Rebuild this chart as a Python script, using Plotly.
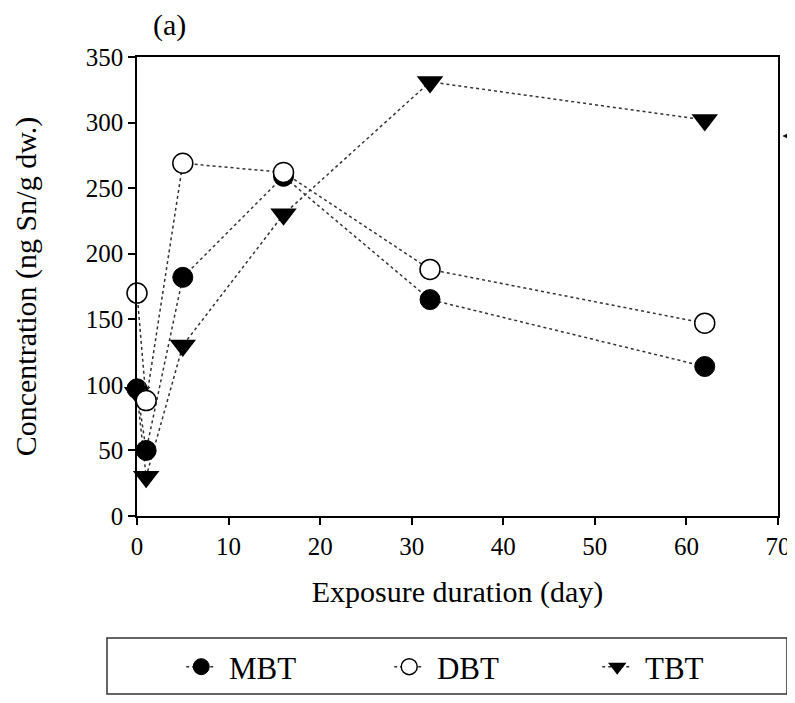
import plotly.graph_objects as go

days = [0, 1, 5, 16, 32, 62]
mbt = [97, 50, 182, 259, 165, 114]
dbt = [170, 88, 269, 262, 188, 147]
tbt = [94, 30, 130, 230, 331, 302]

x_ticks = [0, 10, 20, 30, 40, 50, 60, 70]
y_ticks = [0, 50, 100, 150, 200, 250, 300, 350]

FONT = "Liberation Serif, Times New Roman, serif"
LINE_COL = "#333333"
NB = "\u00a0"

fig = go.Figure()

fig.add_trace(go.Scatter(
    x=days, y=tbt, name=NB + "TBT", mode="lines+markers", legendrank=3,
    line=dict(color=LINE_COL, width=1.5, dash="dot"),
    marker=dict(symbol="triangle-down", size=23, color="black"),
    cliponaxis=False,
))
fig.add_trace(go.Scatter(
    x=days, y=mbt, name=NB + "MBT", mode="lines+markers", legendrank=1,
    line=dict(color=LINE_COL, width=1.5, dash="dot"),
    marker=dict(symbol="circle", size=20, color="black",
                line=dict(color="black", width=1)),
    cliponaxis=False,
))
fig.add_trace(go.Scatter(
    x=days, y=dbt, name=NB + "DBT", mode="lines+markers", legendrank=2,
    line=dict(color=LINE_COL, width=1.5, dash="dot"),
    marker=dict(symbol="circle", size=20, color="white",
                line=dict(color="black", width=1.5)),
    cliponaxis=False,
))

fig.update_layout(
    width=787, height=687,
    margin=dict(l=129, r=17, t=49, b=179, autoexpand=False),
    paper_bgcolor="white", plot_bgcolor="white",
    font=dict(family=FONT, color="black"),
    showlegend=True,
    legend=dict(
        orientation="h", x=0.069, xanchor="left", y=-0.329, yanchor="middle",
        font=dict(family=FONT, size=31, color="black"),
        entrywidth=163, entrywidthmode="pixels",
        bgcolor="rgba(0,0,0,0)", traceorder="normal",
    ),
    xaxis=dict(
        range=[0, 70], tickvals=x_ticks, ticktext=[str(v) for v in x_ticks],
        showline=True, linecolor="black", linewidth=1.5, mirror=True,
        ticks="outside", ticklen=7, tickwidth=1.5, tickcolor="black",
        showgrid=False, zeroline=False,
        tickfont=dict(family=FONT, size=25, color="black"),
        title=dict(text="Exposure duration (day)", standoff=22,
                   font=dict(family=FONT, size=30, color="black")),
    ),
    yaxis=dict(
        range=[0, 350], tickvals=y_ticks, ticktext=[str(v) for v in y_ticks],
        showline=True, linecolor="black", linewidth=1.5, mirror=True,
        ticks="outside", ticklen=7, tickwidth=1.5, tickcolor="black",
        showgrid=False, zeroline=False,
        tickfont=dict(family=FONT, size=25, color="black"),
        title=dict(text="Concentration (ng Sn/g dw.)", standoff=40,
                   font=dict(family=FONT, size=30, color="black")),
    ),
    shapes=[
        dict(type="rect", xref="paper", yref="paper",
             x0=-0.0468, x1=1.014, y0=-0.3878, y1=-0.266,
             line=dict(color="#333333", width=1.5), fillcolor="rgba(0,0,0,0)"),
        dict(type="path", xref="paper", yref="paper",
             path="M 1.0078,0.8279 L 1.0234,0.8388 L 1.0234,0.8170 Z",
             line=dict(color="black", width=0.5), fillcolor="black"),
    ],
    annotations=[
        dict(text="(a)", xref="paper", yref="paper", x=0.051, y=1.0697,
             xanchor="center", yanchor="middle", showarrow=False,
             font=dict(family=FONT, size=30, color="black")),
    ],
)

fig.write_html("out.html")
